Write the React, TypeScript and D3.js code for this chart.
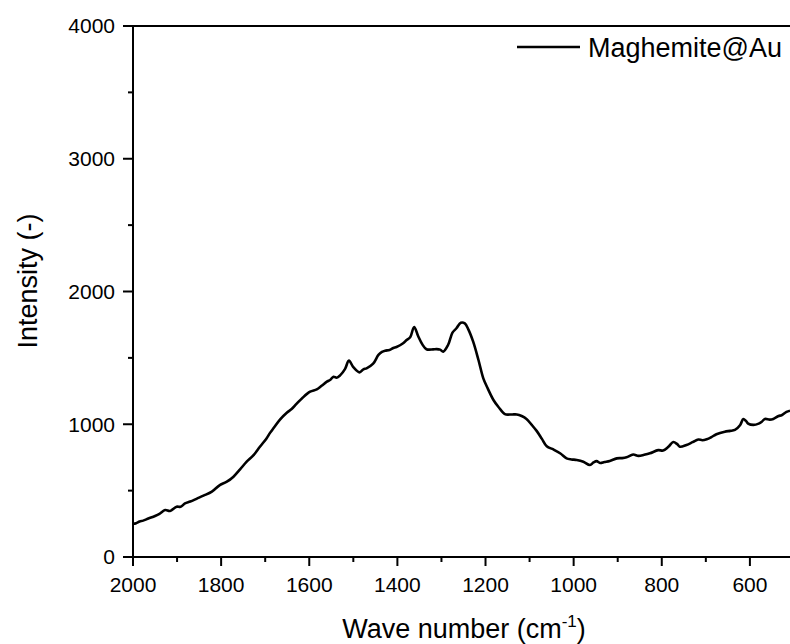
import React from "react";
import * as d3 from "d3";

// Raman spectrum of Maghemite@Au: wave number (cm^-1) and intensity
const waveNumbers = [
  2000, 1993, 1985, 1977, 1965, 1950, 1940, 1927, 1916, 1901, 1892, 1882, 1870, 1855, 1840, 1821,
  1803, 1787, 1772, 1757, 1742, 1727, 1712, 1697, 1689, 1680, 1666, 1651, 1640, 1629, 1615, 1598,
  1583, 1572, 1560, 1552, 1545, 1538, 1530, 1519, 1510, 1500, 1486, 1477, 1470, 1455, 1443, 1435,
  1428, 1418, 1409, 1402, 1387, 1379, 1371, 1362, 1353, 1343, 1334, 1319, 1311, 1303, 1296, 1285,
  1275, 1266, 1256, 1247, 1239, 1228, 1216, 1205, 1195, 1182, 1171, 1156, 1140, 1129, 1118, 1107,
  1095, 1084, 1072, 1061, 1046, 1030, 1016, 1005, 993, 978, 963, 955, 948, 940, 930, 918,
  902, 890, 880, 865, 853, 840, 827, 808, 797, 785, 774, 765, 759, 744, 730, 717,
  708, 698, 688, 676, 657, 645, 634, 622, 615, 609, 604, 592, 580, 573, 566, 555,
  547, 535, 528, 517, 509,
];
const intensities = [
  250, 255, 268, 274, 290, 309, 325, 354, 347, 379, 378, 404, 418, 440, 462, 492,
  542, 567, 605, 660, 718, 765, 830, 893, 935, 975, 1037, 1087, 1115, 1153, 1200, 1245,
  1263, 1290, 1321, 1335, 1358, 1350, 1368, 1415, 1479, 1430, 1391, 1414, 1421, 1456, 1522, 1545,
  1554, 1560, 1575, 1582, 1610, 1635, 1655, 1733, 1665, 1600, 1565, 1564, 1566, 1562, 1547, 1597,
  1690, 1723, 1765, 1760, 1715, 1622, 1484, 1346, 1270, 1183, 1132, 1076, 1074, 1074, 1062, 1040,
  995, 950, 890, 834, 810, 780, 743, 735, 731, 718, 693, 712, 722, 708, 715, 723,
  743, 745, 751, 772, 762, 770, 781, 805, 802, 830, 866, 850, 831, 844, 865, 885,
  880, 887, 902, 925, 944, 950, 957, 994, 1040, 1025, 1005, 995, 1005, 1019, 1040, 1035,
  1040, 1062, 1068, 1093, 1102,
];
const seriesName = "Maghemite@Au";

const xMajorTicks = [2000, 1800, 1600, 1400, 1200, 1000, 800, 600];
const xMinorTicks = [1900, 1700, 1500, 1300, 1100, 900, 700];
const yMajorTicks = [0, 1000, 2000, 3000, 4000];
const yMinorTicks = [500, 1500, 2500, 3500];

const W = 790;
const H = 644;
const left = 133;
const right = 790;
const top = 26;
const bottom = 557;
const FONT = "'Liberation Sans', Arial, sans-serif";

export default function App() {
  const x = d3.scaleLinear().domain([2000, 509]).range([left, right]);
  const y = d3.scaleLinear().domain([0, 4000]).range([bottom, top]);

  const points: [number, number][] = waveNumbers.map((w, i) => [w, intensities[i]]);
  const line = d3
    .line<[number, number]>()
    .x((d) => x(d[0]))
    .y((d) => y(d[1]))
    .curve(d3.curveCatmullRom.alpha(0.5));

  return (
    <svg
      width={W}
      height={H}
      style={{ position: "absolute", left: 0, top: 0, background: "#fff" }}
      fontFamily={FONT}
    >
      <defs>
        <clipPath id="plot-clip">
          <rect x={left} y={top} width={right - left} height={bottom - top} />
        </clipPath>
      </defs>

      {/* spectrum */}
      <path
        d={line(points) ?? ""}
        fill="none"
        stroke="#000"
        strokeWidth={2.6}
        strokeLinejoin="round"
        clipPath="url(#plot-clip)"
      />

      {/* frame */}
      <line x1={left} x2={right} y1={top} y2={top} stroke="#000" strokeWidth={2} />
      <line x1={left} x2={right} y1={bottom} y2={bottom} stroke="#000" strokeWidth={2} />
      <line x1={left} x2={left} y1={top - 1} y2={bottom + 1} stroke="#000" strokeWidth={2} />

      {/* x ticks */}
      {xMajorTicks.map((t) => (
        <g key={"xM" + t}>
          <line x1={x(t)} x2={x(t)} y1={bottom} y2={bottom + 9} stroke="#000" strokeWidth={2} />
          <text x={x(t)} y={592} fontSize={21} textAnchor="middle" fill="#000">
            {t}
          </text>
        </g>
      ))}
      {xMinorTicks.map((t) => (
        <line key={"xm" + t} x1={x(t)} x2={x(t)} y1={bottom} y2={bottom + 5} stroke="#000" strokeWidth={2} />
      ))}

      {/* y ticks */}
      {yMajorTicks.map((t) => (
        <g key={"yM" + t}>
          <line x1={left - 10} x2={left} y1={y(t)} y2={y(t)} stroke="#000" strokeWidth={2} />
          <text x={115} y={y(t)} dy="0.35em" fontSize={21} textAnchor="end" fill="#000">
            {t}
          </text>
        </g>
      ))}
      {yMinorTicks.map((t) => (
        <line key={"ym" + t} x1={left - 5} x2={left} y1={y(t)} y2={y(t)} stroke="#000" strokeWidth={2} />
      ))}

      {/* axis titles */}
      <text x={464} y={638} fontSize={27} textAnchor="middle" fill="#000">
        Wave number (cm
        <tspan fontSize={17} dy={-11}>-1</tspan>
        <tspan dy={11}>)</tspan>
      </text>
      <text
        transform={`translate(37, 281) rotate(-90)`}
        fontSize={27}
        textAnchor="middle"
        fill="#000"
      >
        Intensity (-)
      </text>

      {/* legend */}
      <line x1={517} x2={580} y1={47} y2={47} stroke="#000" strokeWidth={2.6} />
      <text x={588} y={56.5} fontSize={27} fill="#000">
        {seriesName}
      </text>
    </svg>
  );
}
